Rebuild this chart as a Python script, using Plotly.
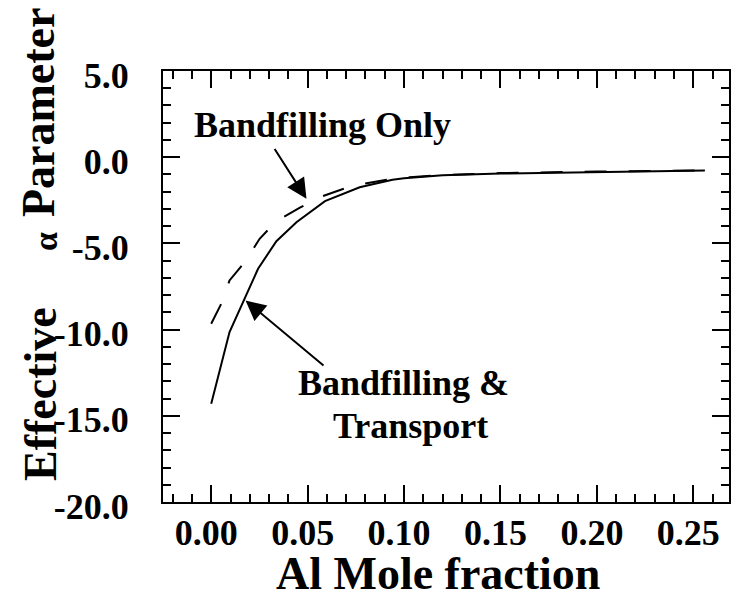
import plotly.graph_objects as go

# Bandfilling & Transport (solid)
x_bt = [0.0, 0.0095, 0.0243, 0.0338, 0.0442, 0.059, 0.077, 0.094, 0.10, 0.12, 0.15, 0.20, 0.256]
y_bt = [-14.3, -10.14, -6.47, -4.87, -3.77, -2.55, -1.74, -1.31, -1.22, -1.05, -0.95, -0.85, -0.77]

# Bandfilling only (dashed)
x_bo = [0.0, 0.0052, 0.0095, 0.0178, 0.0251, 0.0338, 0.046, 0.0563, 0.0676, 0.0789, 0.091, 0.103, 0.12, 0.15, 0.20, 0.256]
y_bo = [-9.66, -8.5, -7.15, -6.03, -4.73, -3.71, -2.93, -2.32, -1.87, -1.54, -1.31, -1.16, -1.03, -0.92, -0.83, -0.77]

y_tickvals = [5, 0, -5, -10, -15, -20]
y_ticktext = ["5.0", "0.0", "-5.0", "-10.0", "-15.0", "-20.0"]
x_tickvals = [0.0, 0.05, 0.10, 0.15, 0.20, 0.25]
x_ticktext = ["0.00", "0.05", "0.10", "0.15", "0.20", "0.25"]

FONT = "Liberation Serif"
OFF = 8  # default page body margin
W, H = 740 - 2 * OFF, 599 - 2 * OFF
# plot area in screenshot pixels: left 163, right 729, top 71, bottom 502
L, T = 163 - OFF, 71 - OFF
R = W - (729 - OFF)
B = H - (502 - OFF)
PW, PH = W - L - R, H - T - B


def px(xpix):
    return (xpix - OFF - L) / PW


def py(ypix):
    return (H - B - (ypix - OFF)) / PH


def bfont(size):
    return dict(family=FONT, size=size, color="black")


fig = go.Figure()
fig.add_trace(go.Scatter(x=x_bt, y=y_bt, mode="lines",
                         line=dict(color="black", width=2), showlegend=False))
fig.add_trace(go.Scatter(x=x_bo, y=y_bo, mode="lines",
                         line=dict(color="black", width=2, dash="22px,22px"), showlegend=False))

axis_common = dict(showline=True, linecolor="black", linewidth=2, mirror="ticks",
                   ticks="inside", ticklen=17, tickwidth=2, tickcolor="black",
                   showgrid=False, zeroline=False, automargin=False,
                   tickfont=bfont(36))

fig.update_xaxes(range=[-0.025, 0.2685], tickvals=x_tickvals,
                 ticktext=["<b>%s</b>" % t for t in x_ticktext],
                 ticklabelshift=-5, ticklabelstandoff=-2,
                 minor=dict(dtick=0.01, tick0=0, ticks="inside", ticklen=8, tickwidth=2, tickcolor="black"),
                 **axis_common)
fig.update_yaxes(range=[-20, 5], tickvals=y_tickvals,
                 ticktext=["<b>%s</b>" % t for t in y_ticktext],
                 ticklabelshift=4, ticklabelstandoff=25,
                 minor=dict(dtick=1, tick0=0, ticks="inside", ticklen=8, tickwidth=2, tickcolor="black"),
                 **axis_common)

ann = []
ann.append(dict(text="<b>Bandfilling Only</b>", x=px(322), y=py(125), xref="paper", yref="paper",
                showarrow=False, font=bfont(36), xanchor="center", yanchor="middle"))
ann.append(dict(text="<b>Bandfilling &</b>", x=px(403), y=py(383), xref="paper", yref="paper",
                showarrow=False, font=bfont(36), xanchor="center", yanchor="middle"))
ann.append(dict(text="<b>Transport</b>", x=px(410), y=py(426), xref="paper", yref="paper",
                showarrow=False, font=bfont(36), xanchor="center", yanchor="middle"))
# arrows
ann.append(dict(text="", x=0.0494, y=-2.41, ax=0.0324, ay=0.56, xref="x", yref="y",
                axref="x", ayref="y", showarrow=True, arrowhead=2, arrowsize=2.0,
                arrowwidth=2, arrowcolor="black"))
ann.append(dict(text="", x=0.0178, y=-8.31, ax=0.059, ay=-12.16, xref="x", yref="y",
                axref="x", ayref="y", showarrow=True, arrowhead=2, arrowsize=2.0,
                arrowwidth=2, arrowcolor="black"))
# axis titles
ann.append(dict(text="<b>Al Mole fraction</b>", x=px(438), y=py(573), xref="paper", yref="paper",
                showarrow=False, font=bfont(46), xanchor="center", yanchor="middle"))
ann.append(dict(text="<b>Parameter</b>", x=px(38), y=py(113), xref="paper", yref="paper",
                showarrow=False, font=bfont(46), xanchor="center", yanchor="middle", textangle=-90))
ann.append(dict(text="<b>α</b>", x=px(45), y=py(242), xref="paper", yref="paper",
                showarrow=False, font=bfont(34), xanchor="center", yanchor="middle", textangle=-90))
ann.append(dict(text="<b>Effective</b>", x=px(40), y=py(394), xref="paper", yref="paper",
                showarrow=False, font=bfont(46), xanchor="center", yanchor="middle", textangle=-90))

fig.update_layout(width=W, height=H, margin=dict(l=L, r=R, t=T, b=B, autoexpand=False),
                  paper_bgcolor="white", plot_bgcolor="white",
                  annotations=ann, showlegend=False)

fig.write_html("out.html")
